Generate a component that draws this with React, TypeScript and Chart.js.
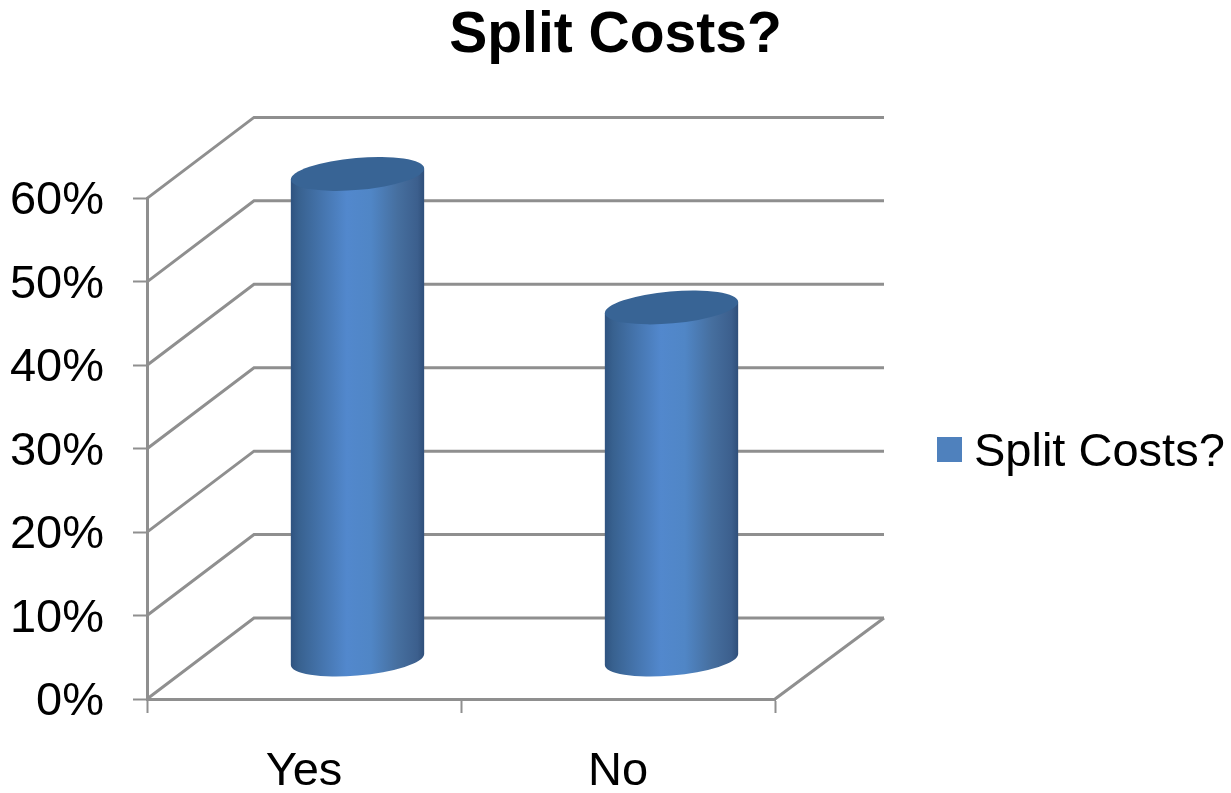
import React, { useEffect, useRef } from "react";
import { Chart, registerables } from "chart.js";

Chart.register(...registerables);

const categories = ["Yes", "No"];
const seriesName = "Split Costs?";
const seriesValues = [58.2, 42.2];
const yMax = 60;
const yStep = 10;

const FONT = "'Liberation Sans', Arial, sans-serif";
const GREY = "#8f8f8f";
const BLUE = "#4f81bd";
const DEPTH_X = 107;
const DEPTH_Y = 81;
const BACK_EXTRA = 2;
const AXIS_W = 3;

function drawWalls(chart: any) {
  const { ctx, scales, chartArea } = chart;
  const y = scales.y;
  ctx.save();
  ctx.strokeStyle = GREY;
  ctx.lineWidth = AXIS_W;
  ctx.lineJoin = "miter";
  for (const tick of y.ticks) {
    const py = y.getPixelForValue(tick.value);
    ctx.beginPath();
    ctx.moveTo(chartArea.left, py);
    ctx.lineTo(chartArea.left + DEPTH_X, py - DEPTH_Y);
    ctx.lineTo(chartArea.right + DEPTH_X + BACK_EXTRA, py - DEPTH_Y);
    ctx.stroke();
  }
  ctx.beginPath();
  ctx.moveTo(chartArea.right, chartArea.bottom);
  ctx.lineTo(chartArea.right + DEPTH_X + BACK_EXTRA, chartArea.bottom - DEPTH_Y);
  ctx.stroke();
  ctx.restore();
}

function drawCylinder(ctx: CanvasRenderingContext2D, bar: any) {
  const a = bar.width / 2 + 0.4;
  const b = 16;
  const rot = (-5 * Math.PI) / 180;
  const cx = bar.x + DEPTH_X / 2;
  const topY = bar.y - DEPTH_Y / 2 + 1;
  const botY = bar.base - DEPTH_Y / 2 + 1.5;
  const t0 = Math.atan2(-b * Math.sin(rot), a * Math.cos(rot));
  const ex = a * Math.cos(t0) * Math.cos(rot) - b * Math.sin(t0) * Math.sin(rot);
  const ey = a * Math.cos(t0) * Math.sin(rot) + b * Math.sin(t0) * Math.cos(rot);

  const g = ctx.createLinearGradient(cx - ex, 0, cx + ex, 0);
  g.addColorStop(0, "#2f5380");
  g.addColorStop(0.06, "#38618f");
  g.addColorStop(0.22, "#4473ab");
  g.addColorStop(0.42, "#5288cd");
  g.addColorStop(0.6, "#5086c6");
  g.addColorStop(0.8, "#466f9f");
  g.addColorStop(0.95, "#3c5f8d");
  g.addColorStop(1, "#2f4f7a");

  ctx.save();
  ctx.fillStyle = g;
  ctx.beginPath();
  ctx.moveTo(cx + ex, topY + ey);
  ctx.lineTo(cx + ex, botY + ey);
  ctx.ellipse(cx, botY, a, b, rot, t0, t0 + Math.PI);
  ctx.lineTo(cx - ex, topY - ey);
  ctx.closePath();
  ctx.fill();

  ctx.fillStyle = "#386495";
  ctx.beginPath();
  ctx.ellipse(cx, topY, a, b, rot, 0, Math.PI * 2);
  ctx.fill();
  ctx.restore();
}

const cylinders = {
  id: "cylinders",
  beforeDraw(chart: any) {
    // centre the title on the whole canvas, not on the padded plot
    if (chart.titleBlock) {
      chart.titleBlock.left = 0;
      chart.titleBlock.right = chart.width;
      chart.titleBlock.width = chart.width;
    }
  },
  beforeDatasetsDraw(chart: any) {
    drawWalls(chart);
  },
  beforeDatasetDraw(chart: any, args: any) {
    for (const bar of args.meta.data) drawCylinder(chart.ctx, bar);
    return false;
  },
};

const sideLegend = {
  id: "sideLegend",
  afterDraw(chart: any) {
    const { ctx } = chart;
    ctx.save();
    ctx.fillStyle = chart.data.datasets[0].backgroundColor;
    ctx.fillRect(937, 437, 25, 25);
    ctx.fillStyle = "#000";
    ctx.font = `47px ${FONT}`;
    ctx.textBaseline = "middle";
    ctx.textAlign = "left";
    ctx.fillText(chart.data.datasets[0].label, 974, 453);
    ctx.restore();
  },
};

export default function App() {
  const ref = useRef<HTMLCanvasElement>(null);
  useEffect(() => {
    const chart = new Chart(ref.current!, {
      type: "bar",
      data: {
        labels: categories,
        datasets: [
          {
            label: seriesName,
            data: seriesValues,
            backgroundColor: BLUE,
            barPercentage: 0.4236,
            categoryPercentage: 1,
          },
        ],
      },
      options: {
        responsive: false,
        animation: false,
        layout: { padding: { left: 0, right: 1231 - 775, top: 0, bottom: 0 } },
        plugins: {
          legend: { display: false },
          tooltip: { enabled: false },
          title: {
            display: true,
            text: seriesName,
            color: "#000",
            font: { family: FONT, size: 57, weight: "bold" },
            padding: { top: 2, bottom: 128 },
          },
        },
        scales: {
          x: {
            afterFit(s: any) {
              s.height = 94;
            },
            border: { display: true, color: GREY, width: AXIS_W },
            grid: {
              drawOnChartArea: false,
              drawTicks: true,
              tickLength: 14,
              tickColor: GREY,
              tickWidth: 2,
            },
            ticks: {
              color: "#000",
              font: { family: FONT, size: 47 },
              padding: 31,
              maxRotation: 0,
            },
          },
          y: {
            min: 0,
            max: yMax,
            afterFit(s: any) {
              s.width = 147;
            },
            border: { display: true, color: GREY, width: AXIS_W },
            grid: {
              drawOnChartArea: false,
              drawTicks: true,
              tickLength: 14,
              tickColor: GREY,
              tickWidth: 2,
            },
            ticks: {
              stepSize: yStep,
              color: "#000",
              font: { family: FONT, size: 47 },
              padding: 29,
              labelOffset: 3,
              callback: (v: any) => `${v}%`,
            },
          },
        },
      },
      plugins: [cylinders, sideLegend],
    } as any);
    return () => chart.destroy();
  }, []);
  return (
    <div style={{ position: "absolute", left: 0, top: 0, width: 1231, height: 793, background: "#fff" }}>
      <canvas ref={ref} width={1231} height={793} style={{ display: "block", filter: "blur(0.5px)" }} />
    </div>
  );
}
